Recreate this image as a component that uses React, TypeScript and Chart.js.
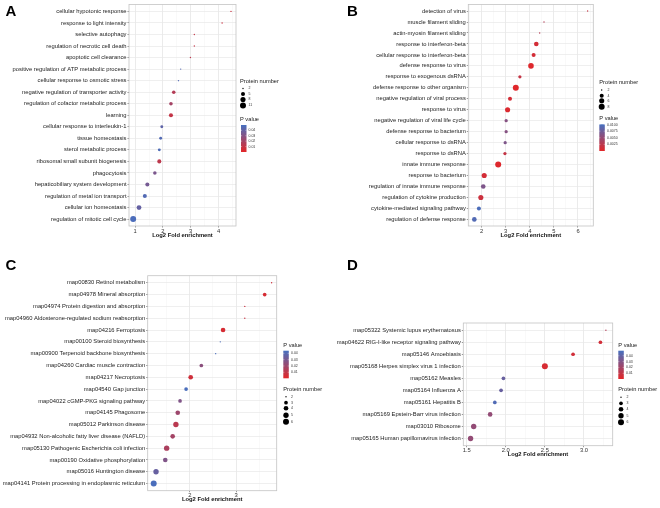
import React, { useEffect, useRef } from "react";
import { Chart, registerables } from "chart.js";
Chart.register(...registerables);

// ---------------- DATA ----------------
const termsA = [
  "cellular hypotonic response", "response to light intensity", "selective autophagy",
  "regulation of necrotic cell death", "apoptotic cell clearance",
  "positive regulation of ATP metabolic process", "cellular response to osmotic stress",
  "negative regulation of transporter activity", "regulation of cofactor metabolic process",
  "learning", "cellular response to interleukin-1", "tissue homeostasis",
  "sterol metabolic process", "ribosomal small subunit biogenesis", "phagocytosis",
  "hepaticobiliary system development", "regulation of metal ion transport",
  "cellular ion homeostasis", "regulation of mitotic cell cycle",
];
const foldA = [4.45, 4.13, 3.13, 3.13, 2.99, 2.64, 2.56, 2.39, 2.29, 2.29, 1.96, 1.92, 1.87, 1.87, 1.71, 1.44, 1.35, 1.14, 0.93];
const countA = [2, 2, 2, 2, 2, 2, 2, 4, 4, 5, 3, 3, 3, 5, 4, 5, 5, 7, 11];
const pA = [0.008, 0.008, 0.01, 0.01, 0.012, 0.045, 0.046, 0.015, 0.02, 0.01, 0.042, 0.046, 0.047, 0.012, 0.033, 0.035, 0.046, 0.04, 0.048];
const sizeBreaksA = [2, 5, 8, 11];
const pBreaksA = [0.04, 0.03, 0.02, 0.01];
const xTicksA = [1, 2, 3, 4];

const termsB = [
  "detection of virus", "muscle filament sliding", "actin-myosin filament sliding",
  "response to interferon-beta", "cellular response to interferon-beta",
  "defense response to virus", "response to exogenous dsRNA",
  "defense response to other organism", "negative regulation of viral process",
  "response to virus", "negative regulation of viral life cycle",
  "defense response to bacterium", "cellular response to dsRNA", "response to dsRNA",
  "innate immune response", "response to bacterium",
  "regulation of innate immune response", "regulation of cytokine production",
  "cytokine-mediated signaling pathway", "regulation of defense response",
];
const foldB = [6.40, 4.59, 4.41, 4.27, 4.16, 4.05, 3.59, 3.42, 3.18, 3.08, 3.02, 3.02, 2.98, 2.97, 2.69, 2.11, 2.07, 1.97, 1.89, 1.70];
const countB = [2, 2, 2, 5, 4, 7, 3, 8, 4, 6, 3, 3, 3, 3, 8, 6, 5, 6, 4, 5];
const pB = [0.002, 0.003, 0.003, 0.001, 0.001, 0.0003, 0.002, 0.0002, 0.001, 0.0005, 0.006, 0.006, 0.0065, 0.002, 0.0003, 0.001, 0.0065, 0.0015, 0.0097, 0.0093];
const sizeBreaksB = [2, 4, 6, 8];
const pBreaksB = [0.01, 0.0075, 0.005, 0.0025];
const xTicksB = [2, 3, 4, 5, 6];

const termsC = [
  "map00830 Retinol metabolism", "map04978 Mineral absorption",
  "map04974 Protein digestion and absorption",
  "map04960 Aldosterone-regulated sodium reabsorption", "map04216 Ferroptosis",
  "map00100 Steroid biosynthesis", "map00900 Terpenoid backbone biosynthesis",
  "map04260 Cardiac muscle contraction", "map04217 Necroptosis", "map04540 Gap junction",
  "map04022 cGMP-PKG signaling pathway", "map04145 Phagosome", "map05012 Parkinson disease",
  "map04932 Non-alcoholic fatty liver disease (NAFLD)",
  "map05130 Pathogenic Escherichia coli infection", "map00190 Oxidative phosphorylation",
  "map05016 Huntington disease", "map04141 Protein processing in endoplasmic reticulum",
];
const foldC = [3.77, 3.62, 3.19, 3.19, 2.72, 2.66, 2.56, 2.25, 2.02, 1.92, 1.79, 1.74, 1.70, 1.63, 1.50, 1.47, 1.27, 1.22];
const countC = [2, 3, 2, 2, 4, 2, 2, 3, 4, 3, 3, 4, 5, 4, 5, 4, 5, 6];
const pC = [0.006, 0.004, 0.008, 0.008, 0.004, 0.042, 0.043, 0.025, 0.006, 0.043, 0.028, 0.02, 0.012, 0.018, 0.016, 0.028, 0.035, 0.043];
const sizeBreaksC = [2, 3, 4, 5, 6];
const pBreaksC = [0.04, 0.03, 0.02, 0.01];
const xTicksC = [2, 3];

const termsD = [
  "map05322 Systemic lupus erythematosus", "map04622 RIG-I-like receptor signaling pathway",
  "map05146 Amoebiasis", "map05168 Herpes simplex virus 1 infection", "map05162 Measles",
  "map05164 Influenza A", "map05161 Hepatitis B", "map05169 Epstein-Barr virus infection",
  "map03010 Ribosome", "map05165 Human papillomavirus infection",
];
const foldD = [3.28, 3.21, 2.86, 2.50, 1.97, 1.94, 1.86, 1.80, 1.59, 1.55];
const countD = [2, 3, 3, 6, 3, 3, 3, 4, 5, 5];
const pD = [0.015, 0.006, 0.006, 0.004, 0.038, 0.038, 0.045, 0.025, 0.025, 0.025];
const sizeBreaksD = [2, 3, 4, 5, 6];
const pBreaksD = [0.04, 0.03, 0.02, 0.01];
const xTicksD = [1.5, 2.0, 2.5, 3.0];

// ---------------- STYLE HELPERS ----------------
const FONT = '"Liberation Sans", Arial, Helvetica, sans-serif';
const RED = [227, 38, 40];
const BLUE = [70, 112, 192];

function pColor(p: number, lo: number, hi: number) {
  const t = Math.max(0, Math.min(1, (p - lo) / (hi - lo)));
  const c = RED.map((r, i) => Math.round(r + (BLUE[i] - r) * t));
  return `rgb(${c[0]},${c[1]},${c[2]})`;
}
function sizeRadius(n: number, nmin: number, nmax: number) {
  const s = 1 + 5 * Math.sqrt(Math.max(0, (n - nmin) / (nmax - nmin)));
  return 0.46 * (s + 0.5);
}

const panels = [
  {
    letter: "A", ox: 0, oy: 0,
    plot: { left: 129, top: 4, right: 236, bottom: 226 },
    terms: termsA, fold: foldA, count: countA, pval: pA,
    sizeBreaks: sizeBreaksA, pBreaks: pBreaksA, pDigits: 2, pRange: [0, 0.0498],
    xMin: 0.78, xMax: 4.63, xTicks: xTicksA, xStep: 1, xDigits: 0,
    size: { x: 240, titleY: 81, dotX: 243, labelX: 248.5, ys: [88.5, 94, 99.5, 105.5] },
    pl: { x: 240, titleY: 119, barX: 241, barTop: 125, barW: 5.5, barH: 27, labelX: 248.5 },
  },
  {
    letter: "B", ox: 330, oy: 0,
    plot: { left: 468.3, top: 4, right: 593.3, bottom: 226 },
    terms: termsB, fold: foldB, count: countB, pval: pB,
    sizeBreaks: sizeBreaksB, pBreaks: pBreaksB, pDigits: 4, pRange: [0, 0.0101],
    xMin: 1.45, xMax: 6.635, xTicks: xTicksB, xStep: 1, xDigits: 0,
    size: { x: 269.3, titleY: 82.3, dotX: 271.7, labelX: 277.5, ys: [90, 95.7, 100.7, 106.7] },
    pl: { x: 269.3, titleY: 118.7, barX: 269.3, barTop: 124.3, barW: 5.5, barH: 26.7, labelX: 277 },
  },
  {
    letter: "C", ox: 0, oy: 254,
    plot: { left: 147.7, top: 275.7, right: 276.7, bottom: 490.7 },
    terms: termsC, fold: foldC, count: countC, pval: pC,
    sizeBreaks: sizeBreaksC, pBreaks: pBreaksC, pDigits: 2, pRange: [0.0005, 0.0442],
    xMin: 1.09, xMax: 3.88, xTicks: xTicksC, xStep: 1, xDigits: 0,
    size: { x: 283.3, titleY: 135.7, dotX: 286, labelX: 291, ys: [142.7, 148.7, 154.3, 161.3, 167.7] },
    pl: { x: 283.3, titleY: 91, barX: 283.3, barTop: 96.7, barW: 5.5, barH: 27.6, labelX: 291 },
  },
  {
    letter: "D", ox: 330, oy: 254,
    plot: { left: 463.3, top: 323, right: 612.7, bottom: 445.7 },
    terms: termsD, fold: foldD, count: countD, pval: pD,
    sizeBreaks: sizeBreaksD, pBreaks: pBreaksD, pDigits: 2, pRange: [0.0004, 0.0485],
    xMin: 1.457, xMax: 3.367, xTicks: xTicksD, xStep: 0.5, xDigits: 1,
    size: { x: 288.3, titleY: 135.7, dotX: 291, labelX: 296.5, ys: [143.3, 149.3, 155.3, 161.7, 168.3] },
    pl: { x: 288.3, titleY: 91, barX: 288.3, barTop: 96.7, barW: 5.5, barH: 28.3, labelX: 296 },
  },
];

const W = 330, H = 254, XH = 14;

function Panel({ cfg }: { cfg: any }) {
  const ref = useRef<HTMLCanvasElement>(null);
  useEffect(() => {
    const c = cfg;
    const pl = c.plot.left - c.ox, pt = c.plot.top - c.oy, pr = c.plot.right - c.ox, pb = c.plot.bottom - c.oy;
    const n = c.terms.length;
    const sMin = c.sizeBreaks[0], sMax = c.sizeBreaks[c.sizeBreaks.length - 1];
    const data = c.terms.map((_: string, i: number) => ({ x: c.fold[i], y: i, r: sizeRadius(c.count[i], sMin, sMax) }));
    const colors = c.pval.map((p: number) => pColor(p, c.pRange[0], c.pRange[1]));
    const half = c.xStep / 2;
    const allX: number[] = [];
    for (let v = c.xTicks[0] - half; v <= c.xMax + 1e-9; v += half) {
      if (v >= c.xMin - 1e-9) allX.push(Math.round(v * 1000) / 1000);
    }
    const isMajor = (v: any) => typeof v === "number" && c.xTicks.some((m: number) => Math.abs(m - v) < 1e-6);

    const overlay = {
      id: "overlay" + c.letter,
      afterDraw(chart: any) {
        const ctx = chart.ctx;
        const a = chart.chartArea;
        ctx.save();
        ctx.strokeStyle = "#c4c4c4";
        ctx.lineWidth = 0.8;
        ctx.strokeRect(a.left, a.top, a.right - a.left, a.bottom - a.top);

        // size legend
        ctx.fillStyle = "#1a1a1a";
        ctx.textBaseline = "middle";
        ctx.textAlign = "left";
        ctx.font = `5.7px ${FONT}`;
        ctx.fillText("Protein number", c.size.x, c.size.titleY);
        c.sizeBreaks.forEach((s: number, i: number) => {
          const y = c.size.ys[i];
          ctx.fillStyle = "#000";
          ctx.beginPath();
          ctx.arc(c.size.dotX, y, sizeRadius(s, sMin, sMax), 0, Math.PI * 2);
          ctx.fill();
          ctx.fillStyle = "#333";
          ctx.font = `3.5px ${FONT}`;
          ctx.fillText(String(s), c.size.labelX, y);
        });

        // p-value colorbar
        const L = c.pl;
        ctx.fillStyle = "#1a1a1a";
        ctx.font = `5.7px ${FONT}`;
        ctx.fillText("P value", L.x, L.titleY);
        const g = ctx.createLinearGradient(0, L.barTop, 0, L.barTop + L.barH);
        for (let k = 0; k <= 10; k++) {
          const v = c.pRange[1] - (k / 10) * (c.pRange[1] - c.pRange[0]);
          g.addColorStop(k / 10, pColor(v, c.pRange[0], c.pRange[1]));
        }
        ctx.fillStyle = g;
        ctx.fillRect(L.barX, L.barTop, L.barW, L.barH);
        c.pBreaks.forEach((v: number) => {
          const y = L.barTop + ((c.pRange[1] - v) / (c.pRange[1] - c.pRange[0])) * L.barH;
          ctx.strokeStyle = "#fff";
          ctx.lineWidth = 0.4;
          ctx.beginPath();
          ctx.moveTo(L.barX, y); ctx.lineTo(L.barX + 1.1, y);
          ctx.moveTo(L.barX + L.barW - 1.1, y); ctx.lineTo(L.barX + L.barW, y);
          ctx.stroke();
          ctx.fillStyle = "#333";
          ctx.font = `3.5px ${FONT}`;
          ctx.fillText(v.toFixed(c.pDigits), L.labelX, y);
        });
        ctx.restore();
      },
    };

    const chart = new Chart(ref.current as HTMLCanvasElement, {
      type: "bubble",
      data: {
        datasets: [{ data, backgroundColor: colors, borderWidth: 0, hoverBorderWidth: 0 } as any],
      },
      options: {
        responsive: false,
        animation: false,
        devicePixelRatio: 1,
        events: [],
        layout: { padding: { left: 0, top: pt, right: W - pr, bottom: H - pb - XH } },
        plugins: { legend: { display: false }, tooltip: { enabled: false } },
        scales: {
          x: {
            type: "linear",
            bounds: "data",
            min: c.xMin,
            max: c.xMax,
            afterBuildTicks: (s: any) => { s.ticks = allX.map((v) => ({ value: v })); },
            afterFit: (s: any) => { s.height = XH; },
            ticks: {
              autoSkip: false,
              maxRotation: 0,
              padding: 0,
              color: "#333",
              font: { family: FONT, size: 5.8 },
              callback: (v: any) => (isMajor(v) ? Number(v).toFixed(c.xDigits) : ""),
            },
            grid: {
              color: (ctx: any) => (isMajor(ctx.tick && ctx.tick.value) ? "#e3e3e3" : "#f1f1f1"),
              lineWidth: (ctx: any) => (isMajor(ctx.tick && ctx.tick.value) ? 0.7 : 0.45),
              tickColor: (ctx: any) => (isMajor(ctx.tick && ctx.tick.value) ? "#4d4d4d" : "rgba(0,0,0,0)"),
              tickLength: 1.5,
              tickWidth: 0.6,
            },
            border: { display: false },
            title: {
              display: true,
              text: "Log2 Fold enrichment",
              color: "#111",
              font: { family: FONT, size: 5.8, weight: "bold" },
              padding: { top: 0, bottom: 1.5 },
            },
          } as any,
          y: {
            type: "linear",
            reverse: true,
            bounds: "data",
            min: -0.6,
            max: n - 0.4,
            afterBuildTicks: (s: any) => { s.ticks = c.terms.map((_: string, i: number) => ({ value: i })); },
            afterFit: (s: any) => { s.width = pl; },
            ticks: {
              autoSkip: false,
              padding: 1,
              color: "#222",
              font: { family: FONT, size: 5.8 },
              callback: (v: any) => c.terms[Math.round(Number(v))] ?? "",
            },
            grid: { color: "#e8e8e8", lineWidth: 0.7, tickColor: "#4d4d4d", tickLength: 1.5, tickWidth: 0.6 },
            border: { display: false },
          } as any,
        },
      },
      plugins: [overlay],
    } as any);
    return () => chart.destroy();
  }, [cfg]);
  return (
    <canvas
      ref={ref}
      width={W}
      height={H}
      style={{ position: "absolute", left: cfg.ox, top: cfg.oy, width: W, height: H }}
    />
  );
}

export default function App() {
  return (
    <div style={{ position: "fixed", left: 0, top: 0, width: 660, height: 508, background: "#fff", overflow: "hidden" }}>
      {panels.map((p) => (
        <Panel key={p.letter} cfg={p} />
      ))}
      {panels.map((p) => (
        <div
          key={"L" + p.letter}
          style={{
            position: "absolute",
            left: p.ox + (p.ox === 0 ? 5.5 : 17),
            top: p.oy + 2.5,
            font: `bold 15px ${FONT}`,
            lineHeight: "15px",
            color: "#000",
          }}
        >
          {p.letter}
        </div>
      ))}
    </div>
  );
}
